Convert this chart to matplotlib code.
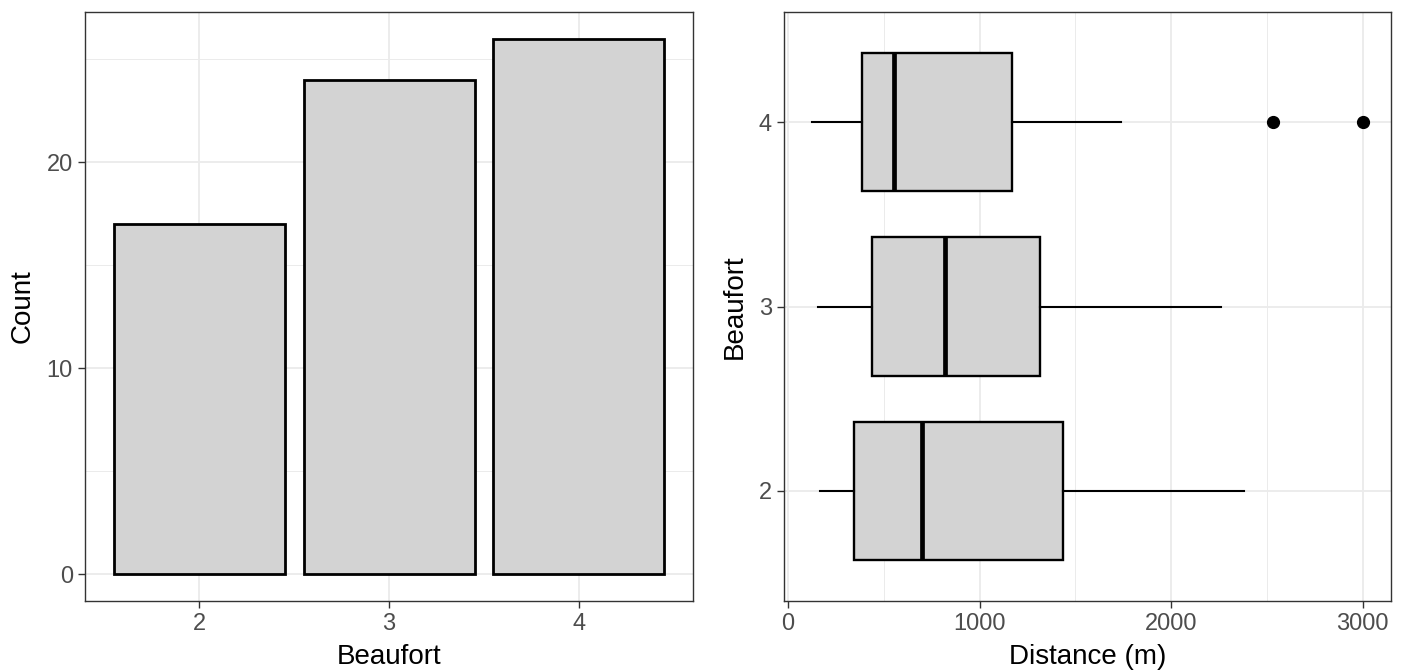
import matplotlib.pyplot as plt
from matplotlib.ticker import MultipleLocator, FixedLocator

plt.rcParams["font.family"] = ["Liberation Sans", "DejaVu Sans"]

# data
beaufort = ["2", "3", "4"]
counts = [17, 24, 26]

# boxplot stats per Beaufort level (distance in m)
box_low = [169, 156, 123]
box_q1 = [346, 440, 385]
box_med = [702, 821, 552]
box_q3 = [1433, 1315, 1167]
box_high = [2383, 2260, 1740]
box_fliers = [[], [], [2533, 3004]]

BORDER = "#333333"
GRID = "#EBEBEB"
TICKLAB = "#4D4D4D"
FILL = "#D3D3D3"


def style_axes(ax):
    for s in ax.spines.values():
        s.set_color(BORDER)
        s.set_linewidth(1.0)
    ax.tick_params(axis="both", which="major", length=4.8, width=1.0,
                   color=BORDER, labelcolor=TICKLAB, labelsize=17, pad=4)
    ax.tick_params(axis="both", which="minor", length=0)
    ax.set_axisbelow(True)


W, H = 1406, 672
fig = plt.figure(figsize=(W / 100, H / 100), dpi=100)

# left panel: bar chart
ax1 = fig.add_axes([85 / W, 1 - 601 / H, (693 - 85) / W, (601 - 12) / H])
xpos = list(range(1, len(beaufort) + 1))
ax1.bar(xpos, counts, width=0.9, color=FILL, edgecolor="black", linewidth=2.0, zorder=2)
ax1.set_xlim(0.4, 3.6)
ax1.set_ylim(-0.05 * max(counts), 1.05 * max(counts))
ax1.set_xticks(xpos)
ax1.set_xticklabels(beaufort)
ax1.yaxis.set_major_locator(MultipleLocator(10))
ax1.yaxis.set_minor_locator(MultipleLocator(5))
ax1.grid(True, which="major", color=GRID, linewidth=1.3)
ax1.grid(True, which="minor", axis="y", color=GRID, linewidth=0.7)
style_axes(ax1)
ax1.set_xlabel("Beaufort", fontsize=20, labelpad=6)
ax1.set_ylabel("Count", fontsize=20, labelpad=8)

# right panel: horizontal boxplots
ax2 = fig.add_axes([784 / W, 1 - 601 / H, (1391 - 784) / W, (601 - 12) / H])
stats = []
for i in range(len(beaufort)):
    stats.append({"whislo": box_low[i], "q1": box_q1[i], "med": box_med[i],
                  "q3": box_q3[i], "whishi": box_high[i], "fliers": box_fliers[i]})
ax2.bxp(stats, positions=xpos, vert=False, widths=0.75, patch_artist=True,
        showcaps=False,
        boxprops=dict(facecolor=FILL, edgecolor="black", linewidth=1.7),
        medianprops=dict(color="black", linewidth=3.4),
        whiskerprops=dict(color="black", linewidth=1.5),
        flierprops=dict(marker="o", markerfacecolor="black", markeredgecolor="black",
                        markersize=8.5),
        zorder=2)
lo = min(box_low)
hi = max(max(f) if f else 0 for f in box_fliers)
span = hi - lo
ax2.set_xlim(lo - 0.05 * span, hi + 0.05 * span)
ax2.set_ylim(0.4, 3.6)
ax2.set_yticks(xpos)
ax2.set_yticklabels(beaufort)
ax2.xaxis.set_major_locator(FixedLocator([0, 1000, 2000, 3000]))
ax2.xaxis.set_minor_locator(FixedLocator([500, 1500, 2500]))
ax2.grid(True, which="major", color=GRID, linewidth=1.3)
ax2.grid(True, which="minor", axis="x", color=GRID, linewidth=0.7)
style_axes(ax2)
ax2.set_xlabel("Distance (m)", fontsize=20, labelpad=6)
ax2.set_ylabel("Beaufort", fontsize=20, labelpad=8)

fig.savefig("out.png", dpi=100)
